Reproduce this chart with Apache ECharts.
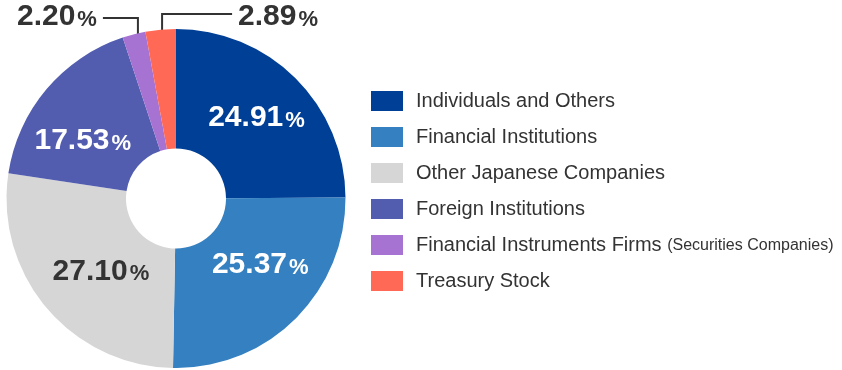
<!DOCTYPE html>
<html><head><meta charset="utf-8">
<script src="https://cdn.jsdelivr.net/npm/echarts@6/dist/echarts.min.js"></script>
<style>html,body{margin:0;padding:0;background:#fff}#c{width:842px;height:370px}</style>
</head><body><div id="c"></div>
<script>
// ---- data ----
const categories = ['Individuals and Others', 'Financial Institutions', 'Other Japanese Companies', 'Foreign Institutions', 'Financial Instruments Firms (Securities Companies)', 'Treasury Stock'];
const values = [24.91, 25.37, 27.10, 17.53, 2.20, 2.89];

// ---- styles ----
const colors = ['#003f96', '#3480c0', '#d6d6d6', '#525db0', '#a673d2', '#ff6955'];
const labelColors = ['#ffffff', '#ffffff', '#333333', '#ffffff', '#333333', '#333333'];
const labelOffsets = [[1, -2], [5, -15], [11, -1], [-7, 14], [0, 0], [0, 0]];
const leaderSide = [0, 0, 0, 0, -1, 1];
const leaderLen = [0, 0, 0, 0, 35, 70];
const FONT = '"Liberation Sans", Arial, Helvetica, sans-serif';
const CX = 176, CY = 198.5, R0 = 50, R1 = 169.5;

const chart = echarts.init(document.getElementById('c'), null, { renderer: 'canvas' });
chart.setOption({
  animation: false,
  backgroundColor: '#fff',
  legend: {
    orient: 'vertical',
    left: 371, top: 91, padding: 0,
    itemWidth: 32, itemHeight: 20, itemGap: 16,
    icon: 'rect', selectedMode: false,
    data: categories,
    formatter: function (name) {
      const k = name.indexOf(' (');
      if (k < 0) return '{a|' + name + '}';
      return '{a|' + name.slice(0, k) + ' }{b|' + name.slice(k + 1) + '}';
    },
    textStyle: {
      color: '#333', fontFamily: FONT, fontSize: 20, padding: [0, 0, 0, 8],
      rich: {
        a: { fontSize: 20, fontFamily: FONT, color: '#333', verticalAlign: 'bottom', lineHeight: 20 },
        b: { fontSize: 16, fontFamily: FONT, color: '#333', verticalAlign: 'bottom', lineHeight: 20, padding: [0, 0, 1, 0] }
      }
    }
  },
  series: [{
    type: 'pie',
    center: [CX, CY],
    radius: [R0, R1],
    startAngle: 90,
    clockwise: true,
    avoidLabelOverlap: false,
    silent: true,
    itemStyle: { borderWidth: 0 },
    label: {
      fontFamily: FONT,
      formatter: function (p) { return '{n|' + p.value.toFixed(2) + '}{p|%}'; },
      rich: {
        n: { fontSize: 30, fontWeight: 'bold', fontFamily: FONT, verticalAlign: 'bottom', lineHeight: 32 },
        p: { fontSize: 22, fontWeight: 'bold', fontFamily: FONT, verticalAlign: 'bottom', lineHeight: 32, padding: [0, 0, 1, 2] }
      }
    },
    labelLine: { length: 10, length2: 30, smooth: false, lineStyle: { color: '#333', width: 2 } },
    labelLayout: function (p) {
      const i = p.dataIndex;
      if (leaderSide[i] === 0 || !p.labelLinePoints) return {};
      const e = p.labelLinePoints[0];
      const dx = e[0] - CX, dy = e[1] - CY, len = Math.hypot(dx, dy);
      const sx = CX + dx / len * (R1 - 16), sy = CY + dy / len * (R1 - 16);
      const ly = CY - R1 - 13 - (leaderSide[i] < 0 ? -2 : 2);
      const ex = sx + leaderSide[i] * leaderLen[i];
      return {
        x: ex + leaderSide[i] * 6, y: CY - R1 - 13,
        align: leaderSide[i] < 0 ? 'right' : 'left',
        verticalAlign: 'middle',
        labelLinePoints: [[sx, sy], [sx, ly], [ex, ly]]
      };
    },
    data: values.map(function (v, i) {
      const inside = leaderSide[i] === 0;
      return {
        name: categories[i], value: v,
        itemStyle: { color: colors[i] },
        label: inside ? { position: 'inside', offset: labelOffsets[i], color: labelColors[i] }
                      : { position: 'outside', color: labelColors[i] },
        labelLine: { show: !inside }
      };
    })
  }]
});
</script>
</body></html>
